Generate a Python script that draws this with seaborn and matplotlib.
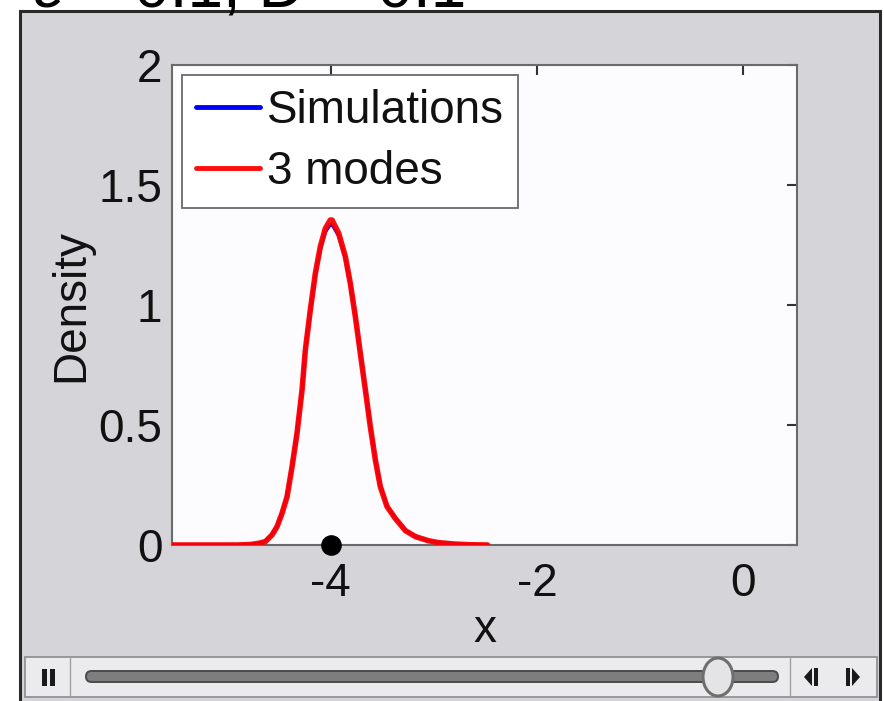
import matplotlib
matplotlib.use("Agg")
import matplotlib.pyplot as plt
from matplotlib.patches import Rectangle, FancyBboxPatch, Ellipse, Polygon
import seaborn as sns
import pandas as pd

# Density curves (x position, density)
mode_x = [-5.54, -4.90, -4.78, -4.700, -4.635, -4.570, -4.522, -4.473, -4.425,
          -4.376, -4.328, -4.279, -4.247, -4.199, -4.150, -4.102, -4.053,
          -4.005, -3.988, -3.924, -3.859, -3.811, -3.762, -3.714, -3.665,
          -3.617, -3.568, -3.520, -3.455, -3.374, -3.277, -3.180, -3.055,
          -2.960, -2.800, -2.650, -2.48]
mode_y = [0.0, 0.0, 0.002, 0.007, 0.014, 0.042, 0.076, 0.132, 0.20,
          0.326, 0.465, 0.646, 0.8125, 0.979, 1.132, 1.243, 1.319,
          1.354, 1.354, 1.299, 1.201, 1.09, 0.951, 0.799, 0.646,
          0.493, 0.354, 0.243, 0.16, 0.11, 0.06, 0.035, 0.018,
          0.010, 0.004, 0.001, 0.0]
sim_x = [-5.54, -4.90, -4.78, -4.700, -4.635, -4.570, -4.522, -4.473, -4.425,
         -4.376, -4.328, -4.279, -4.247, -4.199, -4.150, -4.102, -4.053,
         -4.005, -3.988, -3.924, -3.859, -3.811, -3.762, -3.714, -3.665,
         -3.617, -3.568, -3.520, -3.455, -3.374, -3.277, -3.180, -3.055,
         -2.960, -2.800, -2.650, -2.48]
sim_y = [0.0, 0.0, 0.002, 0.008, 0.016, 0.044, 0.078, 0.135, 0.205,
         0.33, 0.47, 0.65, 0.815, 0.975, 1.125, 1.232, 1.305,
         1.335, 1.336, 1.288, 1.195, 1.088, 0.952, 0.802, 0.65,
         0.497, 0.357, 0.246, 0.162, 0.112, 0.061, 0.036, 0.018,
         0.010, 0.004, 0.001, 0.0]
series_names = ["Simulations", "3 modes"]
series_colors = ["#0000ff", "#ff0000"]

# Current particle position
point_x = [-4.0]
point_y = [0.0]

x_ticks = [-4, -2, 0]
y_ticks = [0, 0.5, 1, 1.5, 2]
y_tick_labels = ["0", "0.5", "1", "1.5", "2"]
title_text = "ε = 0.1, D = 0.1"

sns.set_style("white")
plt.rcParams["font.family"] = ["Liberation Sans", "DejaVu Sans"]
FS = 33

W, H = 884, 701
fig = plt.figure(figsize=(W / 100, H / 100), dpi=100)
fig.patch.set_facecolor("white")

# Window background drawn in pixel coordinates
bg = fig.add_axes([0, 0, 1, 1], zorder=0)
bg.set_xlim(0, W)
bg.set_ylim(H, 0)
bg.axis("off")
panel_color = "#d5d4d8"
bg.add_patch(Rectangle((20, 11), 860, 710, facecolor=panel_color,
                       edgecolor="#2a2a2a", linewidth=2.2))

# Playback bar
bg.add_patch(Rectangle((25, 657), 852, 40, facecolor="#ebebed",
                       edgecolor="#8c8c8c", linewidth=1.2))
bg.plot([70, 70], [658, 696], color="#a0a0a0", lw=1)
bg.plot([790, 790], [658, 696], color="#a0a0a0", lw=1)
bg.add_patch(Rectangle((42, 669), 5, 17, facecolor="#1a1a1a", edgecolor="none"))
bg.add_patch(Rectangle((50, 669), 5, 17, facecolor="#1a1a1a", edgecolor="none"))
bg.add_patch(FancyBboxPatch((86, 671), 692, 11,
                            boxstyle="round,pad=0,rounding_size=5.5",
                            facecolor="#7e7e7e", edgecolor="#4a4a4a", linewidth=1.4))
bg.add_patch(Ellipse((718, 677), 30, 38, facecolor="#e4e4e6",
                     edgecolor="#6e6e6e", linewidth=2.2))
bg.add_patch(Polygon([[804, 677], [812, 668], [812, 686]], closed=True,
                     facecolor="#1a1a1a", edgecolor="none"))
bg.add_patch(Rectangle((814, 668), 4, 18, facecolor="#1a1a1a", edgecolor="none"))
bg.add_patch(Rectangle((846, 668), 4, 18, facecolor="#1a1a1a", edgecolor="none"))
bg.add_patch(Polygon([[852, 668], [860, 677], [852, 686]], closed=True,
                     facecolor="#1a1a1a", edgecolor="none"))

# Title line, mostly above the visible area
fig.text(33 / W, 1 - 8 / H, title_text, fontsize=46, ha="left",
         va="baseline", color="black")

# Main axes
ax = fig.add_axes([172 / W, 1 - 545 / H, 625 / W, 480 / H], zorder=1)
ax.set_facecolor("#fcfcfe")

df = pd.concat([
    pd.DataFrame({"x": sim_x, "density": sim_y, "series": series_names[0]}),
    pd.DataFrame({"x": mode_x, "density": mode_y, "series": series_names[1]}),
])
sns.lineplot(data=df[df.series == series_names[0]], x="x", y="density",
             color=series_colors[0], lw=2.5, ax=ax, label=series_names[0],
             sort=False, zorder=3)
sns.lineplot(data=df[df.series == series_names[1]], x="x", y="density",
             color=series_colors[1], lw=4, ax=ax, label=series_names[1],
             sort=False, zorder=4, alpha=0.95)
sns.scatterplot(x=point_x, y=point_y, color="black", s=190, ax=ax,
                zorder=6, clip_on=False, edgecolor="black")

ax.set_xlim(-5.54, 0.52)
ax.set_ylim(0, 2)
ax.set_xticks(x_ticks)
ax.set_xticklabels([str(t) for t in x_ticks])
ax.set_yticks(y_ticks)
ax.set_yticklabels(y_tick_labels)
ax.tick_params(axis="both", direction="in", length=7, width=1.5,
               color="#333333", labelsize=FS, labelcolor="#111111",
               top=True, right=True)
ax.tick_params(axis="x", pad=12)
ax.tick_params(axis="y", pad=7)
for s in ax.spines.values():
    s.set_visible(True)
    s.set_color("#6a6a6a")
    s.set_linewidth(1.5)
ax.set_xlabel("x", fontsize=FS, labelpad=2, color="#111111")
ax.set_ylabel("Density", fontsize=FS, labelpad=4, color="#111111")

leg = ax.legend(loc="upper left", bbox_to_anchor=(0.016, 0.979), fontsize=FS,
                frameon=True, fancybox=False, handlelength=1.4,
                handletextpad=0.15, borderpad=0.3, labelspacing=0.38,
                borderaxespad=0)
leg.get_frame().set_edgecolor("#6a6a6a")
leg.get_frame().set_linewidth(1.3)
leg.get_frame().set_facecolor("white")
leg.get_frame().set_alpha(1)
for t in leg.get_texts():
    t.set_color("#111111")
for h in leg.legend_handles:
    h.set_linewidth(3.5)

fig.savefig("out.png", dpi=100)
